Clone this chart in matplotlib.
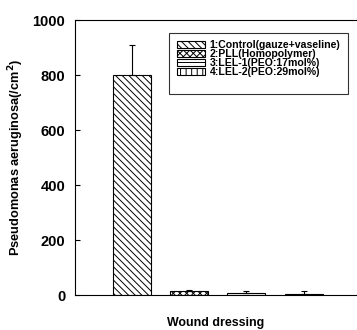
import matplotlib
matplotlib.use("Agg")
import matplotlib.pyplot as plt
from matplotlib.patches import Patch

plt.rcParams['font.family'] = ['Liberation Sans', 'DejaVu Sans']
plt.rcParams['font.weight'] = 'bold'
plt.rcParams['hatch.linewidth'] = 0.7

labels = ['1:Control(gauze+vaseline)', '2:PLL(Homopolymer)',
          '3:LEL-1(PEO:17mol%)', '4:LEL-2(PEO:29mol%)']
values = [800, 15, 8, 2]
errors = [110, 5, 6, 12]
positions = [1, 2, 3, 4]
hatches = ['\\\\\\\\\\', 'xxxxx', '--', '|||']
yticks = [0, 200, 400, 600, 800, 1000]

fig = plt.figure(figsize=(3.57, 3.30), dpi=100)
ax = fig.add_axes([0.210, 0.106, 0.790, 0.833])

for x, v, e, h, lab in zip(positions, values, errors, hatches, labels):
    ax.bar(x, v, width=0.66, color='white', edgecolor='black', hatch=h,
           linewidth=0.8, label=lab)
    ax.errorbar(x, v, yerr=[[0], [e]], color='black', capsize=2,
                elinewidth=0.8, capthick=0.8)

ax.set_xlim(0.01, 4.93)
ax.set_ylim(0, 1000)
ax.set_yticks(yticks)
ax.set_yticklabels([str(t) for t in yticks], fontsize=10.5, fontweight='bold')
ax.set_xticks([])
ax.tick_params(axis='y', direction='in', length=3.5, width=0.8, pad=7)
ax.spines['right'].set_visible(False)
for s in ['left', 'top', 'bottom']:
    ax.spines[s].set_linewidth(0.8)

ax.set_ylabel('Pseudomonas aeruginosa(/cm$^\\mathbf{2}$)', fontsize=9.2,
              fontweight='bold', labelpad=5)
ax.set_xlabel('Wound dressing', fontsize=8.9, fontweight='bold', labelpad=16)

handles, labs = ax.get_legend_handles_labels()
handles = handles + [Patch(visible=False)]
labs = labs + ['']
leg = ax.legend(handles, labs, loc='upper left', bbox_to_anchor=(0.335, 0.955),
                fontsize=7.6, frameon=True, fancybox=False, edgecolor='black',
                handlelength=2.6, handleheight=0.6, handletextpad=0.45,
                borderpad=0.75, labelspacing=-0.1, borderaxespad=0)
leg.get_frame().set_linewidth(0.8)
for t in leg.get_texts():
    t.set_fontweight('bold')

fig.savefig('out.png', dpi=100)
